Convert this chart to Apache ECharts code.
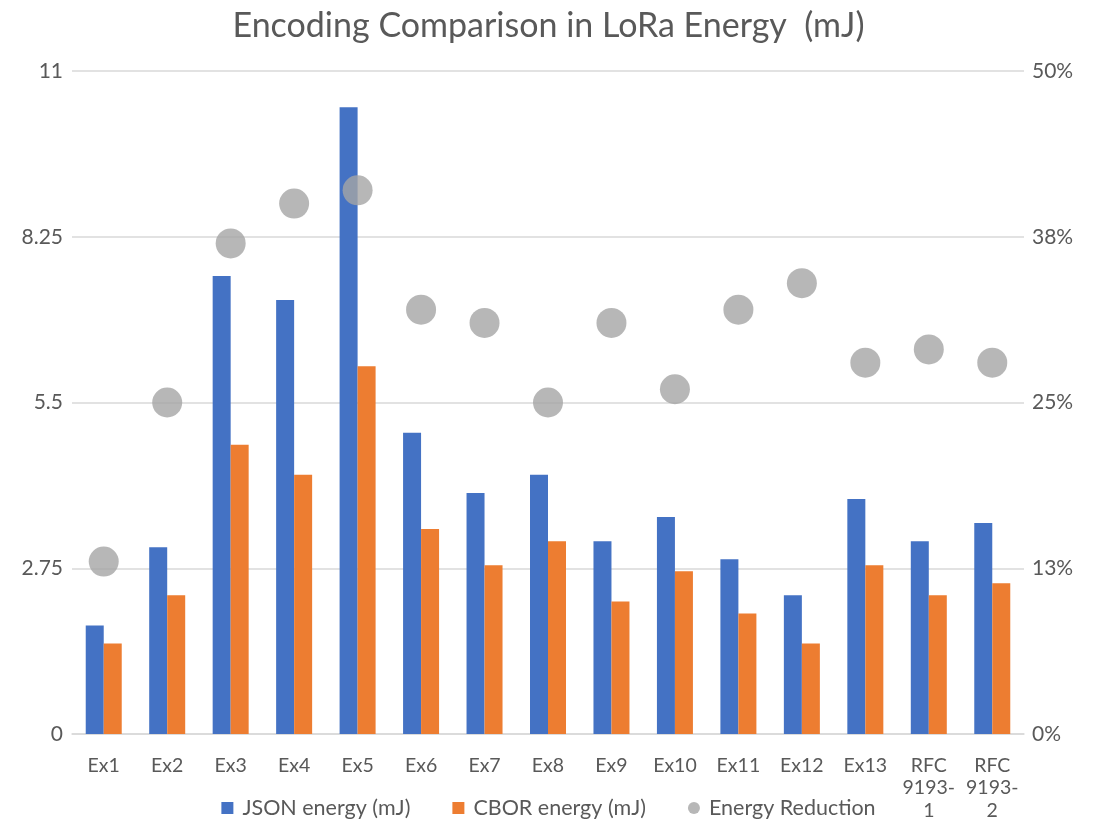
<!DOCTYPE html>
<html>
<head>
<meta charset="utf-8">
<script src="https://cdn.jsdelivr.net/npm/echarts@6/dist/echarts.min.js"></script>
<style>
  html, body { margin: 0; padding: 0; background: #fff; }
  #box { width: 1097px; height: 822px; }
</style>
</head>
<body>
<div id="box"></div>
<script>
var categories = ['Ex1', 'Ex2', 'Ex3', 'Ex4', 'Ex5', 'Ex6', 'Ex7', 'Ex8', 'Ex9', 'Ex10',
                  'Ex11', 'Ex12', 'Ex13', 'RFC\n9193-\n1', 'RFC\n9193-\n2'];
var jsonEnergy = [1.8, 3.1, 7.6, 7.2, 10.4, 5.0, 4.0, 4.3, 3.2, 3.6, 2.9, 2.3, 3.9, 3.2, 3.5];
var cborEnergy = [1.5, 2.3, 4.8, 4.3, 6.1, 3.4, 2.8, 3.2, 2.2, 2.7, 2.0, 1.5, 2.8, 2.3, 2.5];
var reduction = [13, 25, 37, 40, 41, 32, 31, 25, 31, 26, 32, 34, 28, 29, 28]; // %

var txt = '#595959';
var font = 'Lato, "Open Sans", sans-serif';

var myChart = echarts.init(document.getElementById('box'));
var option = {
    backgroundColor: '#fff',
    textStyle: { fontFamily: font },
    title: {
        text: 'Encoding Comparison in LoRa Energy  (mJ)',
        left: 'center',
        top: 4,
        textStyle: { color: txt, fontSize: 34, fontWeight: 'normal', fontFamily: font }
    },
    color: ['#4472C4', '#ED7D31', '#A5A5A5'],
    grid: { left: 72, right: 73, top: 71, bottom: 88 },
    legend: {
        top: 792,
        left: 'center',
        itemWidth: 12,
        itemHeight: 12,
        itemGap: 42,
        textStyle: { color: txt, fontSize: 21.5, fontFamily: font, padding: [0, 0, 0, 4] },
        data: [
            { name: 'JSON energy (mJ)', icon: 'rect' },
            { name: 'CBOR energy (mJ)', icon: 'rect' },
            { name: 'Energy Reduction', icon: 'circle' }
        ]
    },
    xAxis: {
        type: 'category',
        data: categories,
        axisTick: { show: false },
        axisLine: { lineStyle: { color: '#d9d9d9', width: 1.5 } },
        axisLabel: { color: txt, fontSize: 19.5, lineHeight: 22.5, margin: 20, interval: 0 }
    },
    yAxis: [
        {
            type: 'value',
            min: 0, max: 11, interval: 2.75,
            axisLine: { show: false },
            axisTick: { show: false },
            splitLine: { lineStyle: { color: '#d9d9d9', width: 1.5 } },
            axisLabel: { color: txt, fontSize: 21, margin: 9 }
        },
        {
            type: 'value',
            min: 0, max: 50, interval: 12.5,
            axisLine: { show: false },
            axisTick: { show: false },
            splitLine: { show: false },
            axisLabel: {
                color: txt, fontSize: 21, margin: 8,
                formatter: function (v) { return Math.round(v) + '%'; }
            }
        }
    ],
    series: [
        {
            name: 'JSON energy (mJ)',
            type: 'bar',
            barWidth: 18,
            barGap: '0%',
            data: jsonEnergy
        },
        {
            name: 'CBOR energy (mJ)',
            type: 'bar',
            barWidth: 18,
            barGap: '0%',
            data: cborEnergy
        },
        {
            name: 'Energy Reduction',
            type: 'scatter',
            yAxisIndex: 1,
            symbol: 'circle',
            symbolSize: 30,
            itemStyle: { color: '#A5A5A5' },
            data: reduction
        }
    ]
};
myChart.setOption(option);
</script>
</body>
</html>
